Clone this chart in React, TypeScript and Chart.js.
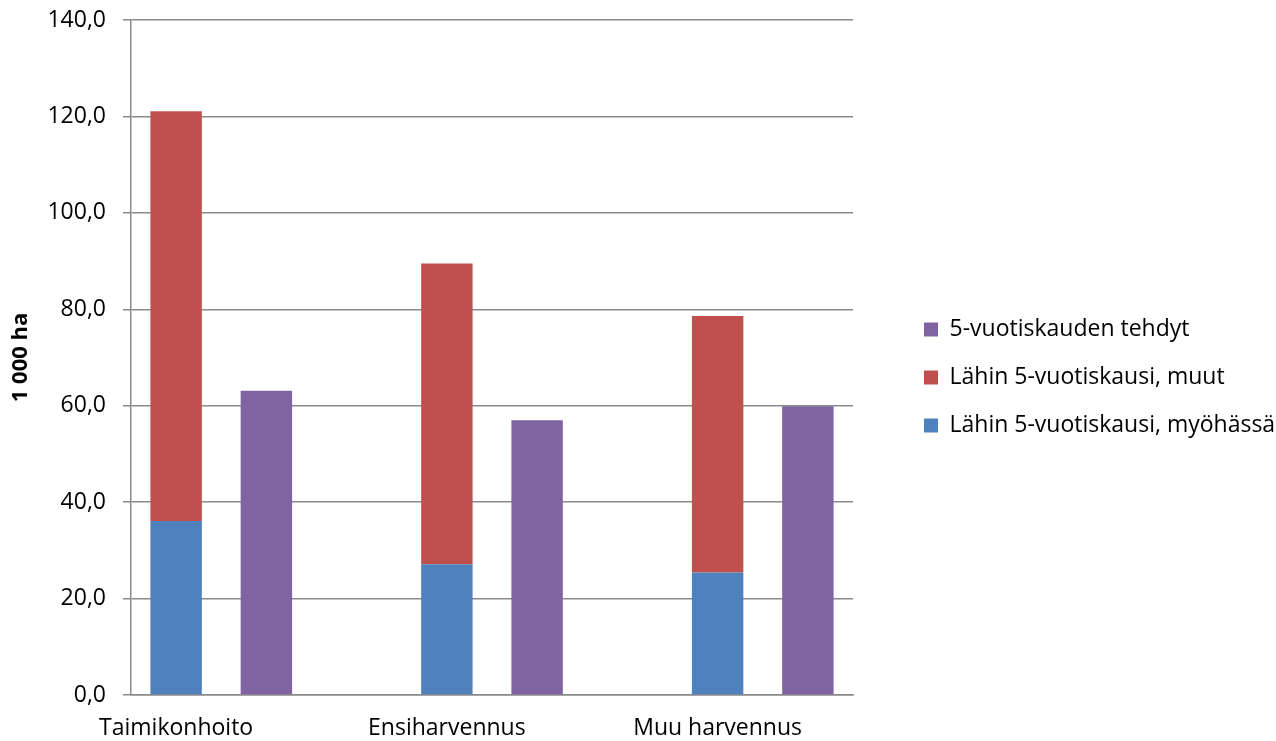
import React, { useEffect, useRef } from 'react';
import { Chart, registerables } from 'chart.js';

Chart.register(...registerables);

// Category slots (Excel layout: one slot per bar column, blank slots as gaps)
const categories = ['Taimikonhoito', '', '', 'Ensiharvennus', '', '', 'Muu harvennus', ''];

const seriesLabels = [
  'Lähin 5-vuotiskausi, myöhässä',
  'Lähin 5-vuotiskausi, muut',
  '5-vuotiskauden tehdyt',
];

const lateValues = [36.1, null, null, 27.1, null, null, 25.4, null];
const otherValues = [85.0, null, null, 62.4, null, null, 53.2, null];
const doneValues = [null, 63.1, null, null, 57.0, null, null, 59.9];

const seriesColors = ['#4F81BD', '#C0504D', '#8064A2'];

const yMin = 0;
const yMax = 140;
const yStep = 20;
const yTitle = '1 000 ha';

const W = 1276;
const H = 741;
const FONT = '"Open Sans", Lato, sans-serif';
const FONT_SIZE = 23;
const GRID_COLOR = '#8a8a8a';

const legendPlacer = {
  id: 'legendPlacer',
  beforeLayout(chart: any) {
    const lg = chart.legend;
    if (lg && !lg.__patched) {
      const orig = lg.fit.bind(lg);
      lg.fit = function () {
        orig();
        this.width = 423;
      };
      lg.__patched = true;
    }
  },
  afterLayout(chart: any) {
    const lg = chart.legend;
    if (lg) {
      lg.left += 46;
      lg.right += 46;
      lg.top -= 3;
      lg.bottom -= 3;
    }
  },
};

export default function App() {
  const ref = useRef<HTMLCanvasElement | null>(null);

  useEffect(() => {
    document.body.style.margin = '0';
    const canvas = ref.current;
    if (!canvas) return;
    Chart.defaults.font.family = FONT;
    Chart.defaults.color = '#000';

    const data = [lateValues, otherValues, doneValues];
    const chart = new Chart(canvas, {
      type: 'bar',
      data: {
        labels: categories,
        datasets: seriesLabels.map((label, i) => ({
          label,
          data: data[i] as any,
          backgroundColor: seriesColors[i],
          borderWidth: 0,
          barPercentage: 0.57,
          categoryPercentage: 1.0,
        })),
      },
      options: {
        responsive: false,
        animation: false,
        devicePixelRatio: 1,
        layout: { padding: { top: 20, left: 0, right: 0, bottom: 0 } },
        plugins: {
          tooltip: { enabled: false },
          legend: {
            position: 'right',
            reverse: true,
            labels: {
              boxWidth: 14,
              boxHeight: 14,
              padding: 25,
              font: { size: FONT_SIZE, family: FONT },
              color: '#000',
            },
          },
        },
        scales: {
          x: {
            stacked: true,
            grid: { display: false, drawTicks: false },
            border: { display: true, color: GRID_COLOR, width: 1.5 },
            ticks: {
              autoSkip: false,
              maxRotation: 0,
              minRotation: 0,
              padding: 20,
              font: { size: FONT_SIZE, family: FONT },
              color: '#000',
            },
            afterFit(scale: any) {
              scale.height = 46;
            },
          },
          y: {
            stacked: true,
            min: yMin,
            max: yMax,
            ticks: {
              stepSize: yStep,
              padding: 17,
              font: { size: FONT_SIZE, family: FONT },
              color: '#000',
              callback: (v: any) => Number(v).toFixed(1).replace('.', ','),
            },
            grid: { color: GRID_COLOR, lineWidth: 1.5, tickLength: 8, drawTicks: true },
            border: { display: true, color: GRID_COLOR, width: 1.5 },
            title: {
              display: true,
              text: yTitle,
              font: { size: 22, weight: 'bold', family: FONT },
              color: '#000',
              padding: { top: 8, bottom: 0 },
            },
            afterFit(scale: any) {
              scale.width = 131;
              scale.paddingTop = 0;
              scale.paddingBottom = 0;
            },
          },
        },
      },
      plugins: [legendPlacer],
    });
    return () => chart.destroy();
  }, []);

  return (
    <div style={{ position: 'fixed', left: 0, top: 0, width: W, height: H, background: '#fff' }}>
      <canvas ref={ref} width={W} height={H} style={{ width: W, height: H, display: 'block' }} />
    </div>
  );
}
